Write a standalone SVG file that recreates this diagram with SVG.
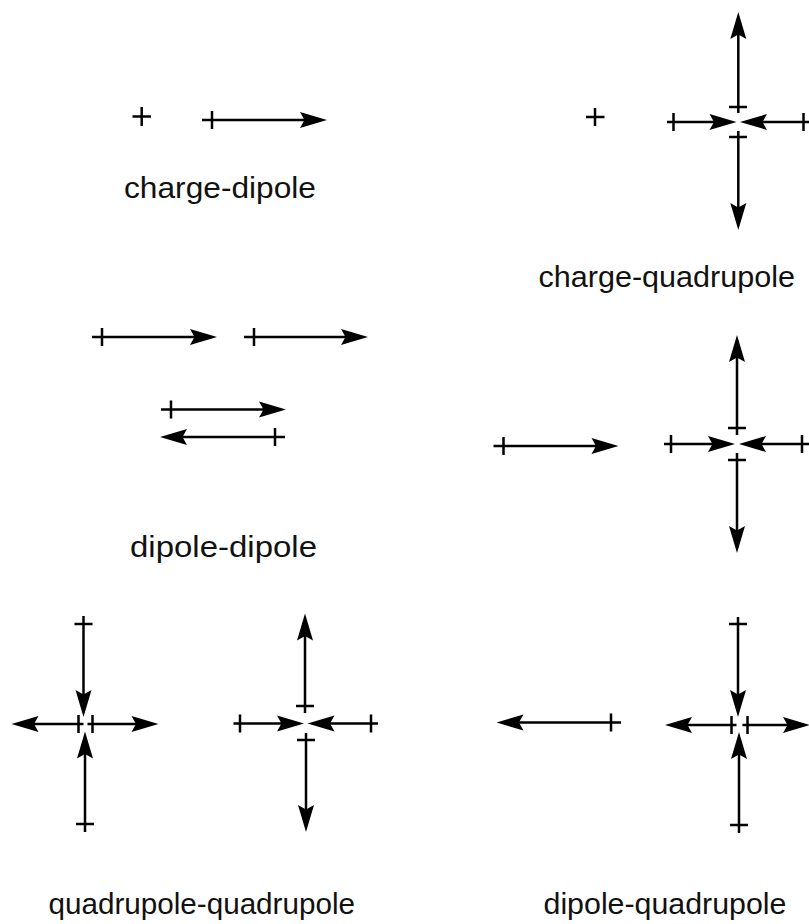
<svg xmlns="http://www.w3.org/2000/svg" xmlns:xlink="http://www.w3.org/1999/xlink" width="809" height="924" viewBox="0 0 809 924">
<style>
.l{stroke:#000;stroke-width:2.5;fill:none}
.t{font-family:"Liberation Sans",Arial,Helvetica,sans-serif;font-size:30px;fill:#111}
.h{fill:#000}
</style>
<defs>
<path id="ah" class="h" d="M0,0 L-27,-8 L-22.5,0 L-27,8 Z"/>
</defs>
<rect width="809" height="924" fill="#fff"/>

<g id="charge-dipole">
<path class="l" d="M132.5,116.5H151M141.7,107V126"/>
<path class="l" d="M202,120H307M212,111V129"/>
<use xlink:href="#ah" transform="translate(327,120)"/>
<text class="t" x="124" y="198" textLength="192" lengthAdjust="spacingAndGlyphs">charge-dipole</text>
</g>

<g id="charge-quadrupole">
<path class="l" d="M586,117H604.5M595,108V126"/>
<path class="l" d="M667,122H716M673.5,113V131"/>
<use xlink:href="#ah" transform="translate(736.5,122)"/>
<path class="l" d="M812,122H760M803.5,113V131"/>
<use xlink:href="#ah" transform="translate(740,122) rotate(180)"/>
<path class="l" d="M738.3,113V32M729,107H747"/>
<use xlink:href="#ah" transform="translate(738.3,12) rotate(-90)"/>
<path class="l" d="M738.3,131V210M729,137H747"/>
<use xlink:href="#ah" transform="translate(738.3,230) rotate(90)"/>
<text class="t" x="538.5" y="287" textLength="256.5" lengthAdjust="spacingAndGlyphs">charge-quadrupole</text>
</g>

<g id="dipole-dipole">
<path class="l" d="M92,337H197M102,328V346"/>
<use xlink:href="#ah" transform="translate(217,337)"/>
<path class="l" d="M244,337H348M254,328V346"/>
<use xlink:href="#ah" transform="translate(368,337)"/>
<path class="l" d="M161,409.5H266M171,400.5V418.5"/>
<use xlink:href="#ah" transform="translate(286,409.5)"/>
<path class="l" d="M285,437H180M275,428V446"/>
<use xlink:href="#ah" transform="translate(160,437) rotate(180)"/>
<text class="t" x="130" y="557" textLength="187" lengthAdjust="spacingAndGlyphs">dipole-dipole</text>
</g>

<g id="dipole-quadrupole-mid">
<path class="l" d="M493.5,446H598.5M503.5,437V455"/>
<use xlink:href="#ah" transform="translate(618.5,446)"/>
<path class="l" d="M664,444H715M671,435V453"/>
<use xlink:href="#ah" transform="translate(735,444)"/>
<path class="l" d="M812,444H759M802,435V453"/>
<use xlink:href="#ah" transform="translate(739,444) rotate(180)"/>
<path class="l" d="M737,435V355M728,428H746"/>
<use xlink:href="#ah" transform="translate(737,335) rotate(-90)"/>
<path class="l" d="M737,453V533M728,460H746"/>
<use xlink:href="#ah" transform="translate(737,553) rotate(90)"/>
</g>

<g id="quadrupole-quadrupole">
<path class="l" d="M83.5,616V697M74.5,624H92.5"/>
<use xlink:href="#ah" transform="translate(83.5,717) rotate(90)"/>
<path class="l" d="M85,832V751.5M76,824H94"/>
<use xlink:href="#ah" transform="translate(85,731.5) rotate(-90)"/>
<path class="l" d="M83.5,724H31.5M78.5,715V733"/>
<use xlink:href="#ah" transform="translate(11.5,724) rotate(180)"/>
<path class="l" d="M87.5,724H138.5M92.5,715V733"/>
<use xlink:href="#ah" transform="translate(158.5,724)"/>

<path class="l" d="M305,713V633.5M296,706H314"/>
<use xlink:href="#ah" transform="translate(305,613.5) rotate(-90)"/>
<path class="l" d="M306,733V812M297,740H315"/>
<use xlink:href="#ah" transform="translate(306,832) rotate(90)"/>
<path class="l" d="M233.5,723.5H284M240,714.5V732.5"/>
<use xlink:href="#ah" transform="translate(304,723.5)"/>
<path class="l" d="M378,723.5H327.5M371,714.5V732.5"/>
<use xlink:href="#ah" transform="translate(307.5,723.5) rotate(180)"/>
<text class="t" x="48.5" y="914" textLength="306.5" lengthAdjust="spacingAndGlyphs">quadrupole-quadrupole</text>
</g>

<g id="dipole-quadrupole">
<path class="l" d="M621,722.5H516.5M611,713.5V731.5"/>
<use xlink:href="#ah" transform="translate(496.5,722.5) rotate(180)"/>
<path class="l" d="M738,617V697M729,624H747"/>
<use xlink:href="#ah" transform="translate(738,717) rotate(90)"/>
<path class="l" d="M739,833V752M730,825H748"/>
<use xlink:href="#ah" transform="translate(739,732) rotate(-90)"/>
<path class="l" d="M736.5,725H685M731.5,716V734"/>
<use xlink:href="#ah" transform="translate(665,725) rotate(180)"/>
<path class="l" d="M742.5,725H790M747.5,716V734"/>
<use xlink:href="#ah" transform="translate(810,725)"/>
<text class="t" x="543.5" y="914" textLength="243" lengthAdjust="spacingAndGlyphs">dipole-quadrupole</text>
</g>
</svg>
